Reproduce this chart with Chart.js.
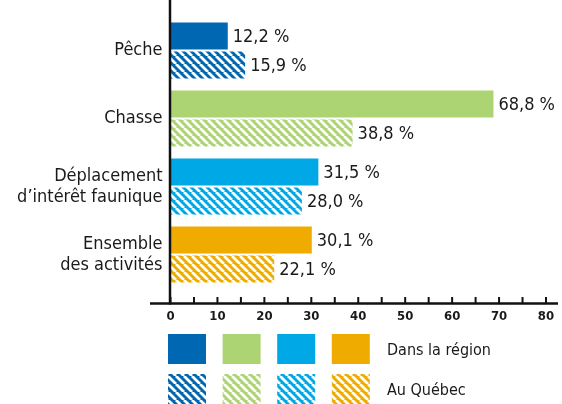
<!DOCTYPE html>
<html>
<head>
<meta charset="utf-8">
<script src="https://cdn.jsdelivr.net/npm/chart.js@4"></script>
<style>
  html, body { margin: 0; padding: 0; background: #fff; }
  #wrap { width: 562px; height: 404px; }
</style>
</head>
<body>
<div id="wrap"><canvas id="chart" width="562" height="404"></canvas></div>
<script>
// Data
const categories = [["Pêche"], ["Chasse"], ["Déplacement", "d’intérêt faunique"], ["Ensemble", "des activités"]];
const seriesNames = ["Dans la région", "Au Québec"];
const regionValues = [12.2, 68.8, 31.5, 30.1];
const quebecValues = [15.9, 38.8, 28.0, 22.1];
const categoryColors = ["#0068b2", "#add473", "#00a8e6", "#f0ab00"];
const xMax = 80;

const FONT = '"Liberation Sans Narrow", "Arial Narrow", "DejaVu Sans Condensed", sans-serif';
const TEXT = "#1a1a1a";
Chart.defaults.font.family = FONT;

// diagonal white stripes on a colour
const hatch = color => {
  const c = document.createElement("canvas");
  c.width = 8; c.height = 8;
  const g = c.getContext("2d");
  g.fillStyle = color;
  g.fillRect(0, 0, 8, 8);
  g.strokeStyle = "#fff";
  g.lineWidth = 2.8;
  g.beginPath();
  for (const k of [-8, 0, 8]) { g.moveTo(k, 0); g.lineTo(k + 8, 8); }
  g.stroke();
  return g.createPattern(c, "repeat");
};
const hatchColors = categoryColors.map(hatch);

const fmt = v => v.toFixed(1).replace(".", ",") + " %";

const valueLabels = {
  id: "valueLabels",
  afterDatasetsDraw(chart) {
    const { ctx } = chart;
    ctx.save();
    ctx.font = "18px " + FONT;
    ctx.fillStyle = TEXT;
    ctx.textAlign = "left";
    ctx.textBaseline = "middle";
    chart.data.datasets.forEach((ds, i) => {
      chart.getDatasetMeta(i).data.forEach((bar, j) => {
        ctx.fillText(fmt(ds.data[j]), bar.x + 5, bar.y + 1);
      });
    });
    ctx.restore();
  }
};

const axesAndLegend = {
  id: "axesAndLegend",
  afterDraw(chart) {
    const { ctx, chartArea } = chart;
    const xs = chart.scales.x;
    const axisY = 303.5;
    ctx.save();
    ctx.strokeStyle = "#111";
    // y axis line
    ctx.lineWidth = 2.5;
    ctx.beginPath();
    ctx.moveTo(chartArea.left - 0.5, 0);
    ctx.lineTo(chartArea.left - 0.5, axisY + 1);
    ctx.stroke();
    // x axis line
    ctx.beginPath();
    ctx.moveTo(150, axisY);
    ctx.lineTo(558, axisY);
    ctx.stroke();
    // tick marks pointing up
    ctx.lineWidth = 2;
    xs.ticks.forEach(t => {
      const px = xs.getPixelForValue(t.value);
      ctx.beginPath();
      ctx.moveTo(px, axisY);
      ctx.lineTo(px, axisY - 6.5);
      ctx.stroke();
    });
    // legend
    const rows = [categoryColors, hatchColors];
    rows.forEach((fills, r) => {
      const y = 334 + r * 40;
      fills.forEach((f, i) => {
        ctx.fillStyle = f;
        ctx.fillRect(168 + i * 54.6, y, 38, 30);
      });
      ctx.fillStyle = TEXT;
      ctx.font = "16px " + FONT;
      ctx.textAlign = "left";
      ctx.textBaseline = "alphabetic";
      ctx.fillText(seriesNames[r], 387, y + 21);
    });
    ctx.restore();
  }
};

new Chart(document.getElementById("chart"), {
  type: "bar",
  data: {
    labels: categories,
    datasets: [
      { label: seriesNames[0], data: regionValues, backgroundColor: categoryColors, borderWidth: 0 },
      { label: seriesNames[1], data: quebecValues, backgroundColor: hatchColors, borderWidth: 0 }
    ]
  },
  options: {
    indexAxis: "y",
    responsive: false,
    animation: false,
    layout: { padding: { top: 16.5, right: 16, left: 0, bottom: 0 } },
    datasets: { bar: { categoryPercentage: 0.853, barPercentage: 0.93 } },
    plugins: { legend: { display: false }, tooltip: { enabled: false } },
    scales: {
      x: {
        min: 0,
        max: xMax,
        ticks: {
          stepSize: 5,
          autoSkip: false,
          maxRotation: 0,
          callback: v => (v % 10 === 0 ? v : ""),
          font: { size: 13, weight: "bold" },
          color: TEXT,
          padding: 20
        },
        grid: { display: false, drawTicks: false },
        border: { display: false },
        afterFit: s => { s.height = 115.5; s.paddingLeft = 0; s.paddingRight = 0; }
      },
      y: {
        ticks: { font: { size: 18, lineHeight: 1.15 }, color: TEXT, padding: 8 },
        grid: { display: false, drawTicks: false },
        border: { display: false },
        afterFit: s => { s.width = 170.5; s.paddingTop = 0; s.paddingBottom = 0; }
      }
    }
  },
  plugins: [valueLabels, axesAndLegend]
});
</script>
</body>
</html>
